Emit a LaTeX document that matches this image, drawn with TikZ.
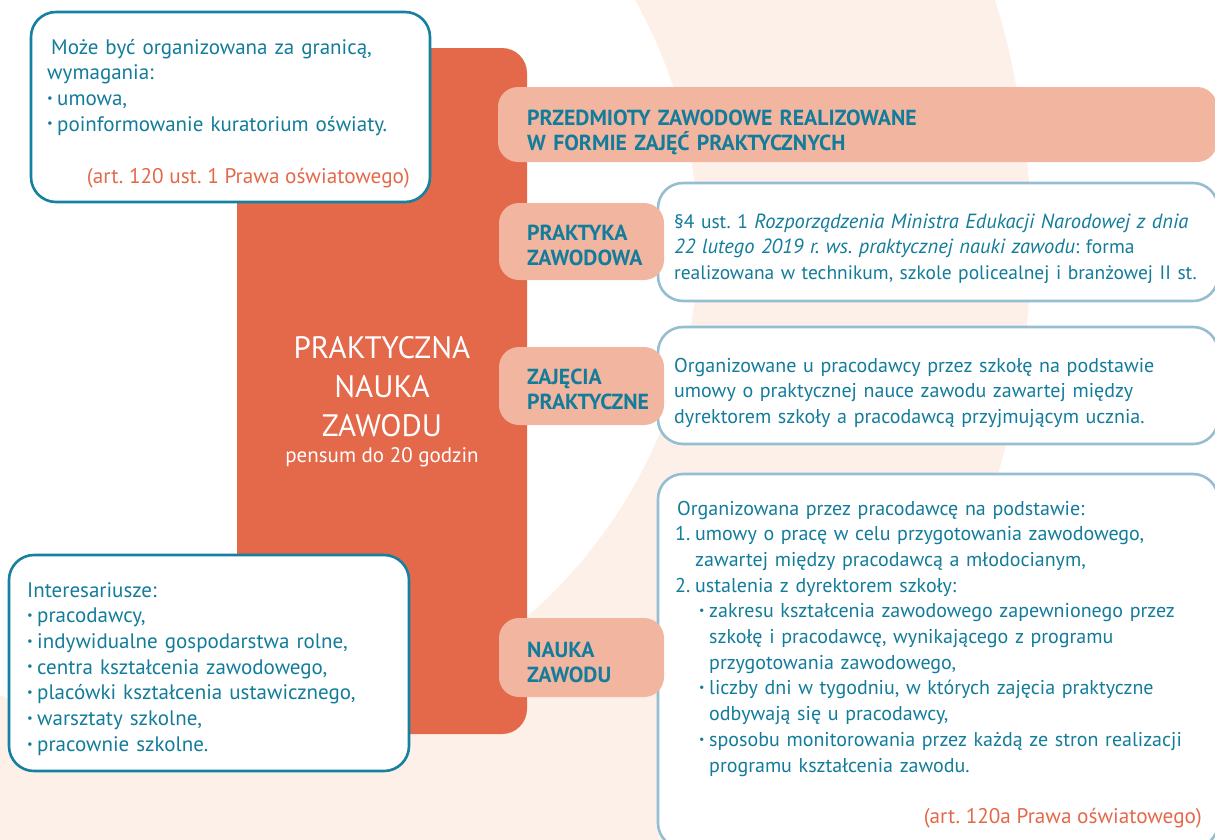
\documentclass[tikz,border=0pt]{standalone}
\usepackage{fontspec}
\setmainfont{PT Sans}
\usetikzlibrary{calc,positioning}
\frenchspacing

\definecolor{mainorange}{HTML}{E4694A}
\definecolor{salmon}{HTML}{F2B6A0}
\definecolor{tealtext}{HTML}{137C9B}
\definecolor{tealline}{HTML}{15809F}
\definecolor{paleblue}{HTML}{96BED3}
\definecolor{peach}{HTML}{FDF0E8}

\newcommand{\bul}{\makebox[10pt][l]{\raisebox{0.3ex}{\scalebox{0.6}{\textbullet}}}}
\newcommand{\lawit}[1]{\textit{\fontsize{20.5}{25.7}\selectfont #1}}

\tikzset{
    infobox/.style={
        draw=tealline, line width=2.6pt, fill=white,
        rounded corners=25pt, inner sep=0pt
    },
    notebox/.style={
        draw=paleblue, line width=2.6pt, fill=white,
        rounded corners=25pt, inner sep=0pt
    }
}

\begin{document}
\begin{tikzpicture}[
        x=1pt, y=-1pt,
        labelbox/.style={
            fill=salmon, rounded corners=20pt, inner sep=0pt
        },
        body/.style={
            text=tealtext, inner sep=0pt, align=left, text width=560pt,
            font=\fontsize{20}{25.7}\selectfont
        },
        sidebody/.style={
            body, font=\fontsize{21}{25.7}\selectfont
        },
        tag/.style={
            text=tealtext, inner sep=0pt, align=left, text width=400pt,
            font=\fontsize{21.8}{25.5}\selectfont\bfseries
        },
        source/.style={
            text=mainorange, inner sep=0pt,
            font=\fontsize{21.2}{25.7}\selectfont
        }
    ]

    \useasboundingbox (0,0) rectangle (1215,839);
    \clip (0,0) rectangle (1215,839);

    % background ring
    \fill[peach, even odd rule] (202,242) circle[radius=829] (202,242) circle[radius=496];

    \node[fill=mainorange, rounded corners=25pt, minimum width=290pt, minimum height=686pt] (pnz) at (382,391) {};
    \node[text=white, inner sep=0pt, align=center, text width=280pt, anchor=base,
          font=\fontsize{31}{39}\selectfont] (pnztitle) at (382,358) {PRAKTYCZNA\\NAUKA\\ZAWODU};
    \node[text=white, inner sep=0pt, anchor=base,
          font=\fontsize{21}{24}\selectfont] (pensum) at (382,462) {pensum do 20 godzin};

    % left boxes
    \node[infobox, minimum width=399pt, minimum height=190pt] (abroad) at (230.5,107) {};
    \node[sidebody, anchor=base west] (abroadtxt) at (47,54) {\hspace*{4pt}Może być organizowana za granicą,\\
        wymagania:\\ \bul umowa,\\ \bul poinformowanie kuratorium oświaty.};
    \node[source, anchor=base east] (abroadsrc) at (410,183) {(art. 120 ust. 1 Prawa oświatowego)};

    \node[infobox, minimum width=400pt, minimum height=216pt] (parties) at (209,663) {};
    \node[sidebody, anchor=base west] (partiestxt) at (27,597) {Interesariusze:\\ \bul pracodawcy,\\
        \bul indywidualne gospodarstwa rolne,\\ \bul centra kształcenia zawodowego,\\
        \bul placówki kształcenia ustawicznego,\\ \bul warsztaty szkolne,\\ \bul pracownie szkolne.};

    % right column
    \node[labelbox, minimum width=719pt, minimum height=75pt] (subjects) at (857.5,124.5) {};
    \node[tag, anchor=base west] (subjectstxt) at (527,125) {PRZEDMIOTY ZAWODOWE REALIZOWANE\\W FORMIE ZAJĘĆ PRAKTYCZNYCH};

    \node[notebox, minimum width=560pt, minimum height=118pt] (practice) at (938,242) {};
    \node[notebox, minimum width=560pt, minimum height=117pt] (classes) at (938,385.5) {};
    \node[notebox, minimum width=560pt, minimum height=374pt] (training) at (938,661) {};

    \node[labelbox, minimum width=165pt, minimum height=77pt] (practicetag) at (581.5,241.5) {};
    \node[labelbox, minimum width=165pt, minimum height=78pt] (classestag) at (581.5,386) {};
    \node[labelbox, minimum width=165pt, minimum height=79pt] (trainingtag) at (581.5,657.5) {};

    \node[tag, anchor=base west] at (527,240) {PRAKTYKA\\ZAWODOWA};
    \node[tag, anchor=base west] at (527,384) {ZAJĘCIA\\PRAKTYCZNE};
    \node[tag, anchor=base west] at (527,657) {NAUKA\\ZAWODU};

    \node[body, anchor=base west, font=\fontsize{19.5}{25.7}\selectfont] (practicetxt) at (674,228)
        {§4 ust. 1 \lawit{Rozporządzenia Ministra Edukacji Narodowej z dnia}\\
        \lawit{22 lutego 2019 r. ws. praktycznej nauki zawodu}: forma\\
        realizowana w technikum, szkole policealnej i branżowej II st.};
    \node[body, anchor=base west] (classestxt) at (674,372) {Organizowane u pracodawcy przez szkołę na podstawie\\
        umowy o praktycznej nauce zawodu zawartej między\\
        dyrektorem szkoły a pracodawcą przyjmującym ucznia.};
    \node[body, anchor=base west] (trainingtxt) at (675,515) {\hspace*{2pt}Organizowana przez pracodawcę na podstawie:\\
        \makebox[20pt][l]{1.}umowy o pracę w celu przygotowania zawodowego,\\
        \hspace*{20pt}zawartej między pracodawcą a młodocianym,\\
        \makebox[20pt][l]{2.}ustalenia z dyrektorem szkoły:\\
        \hspace*{24pt}\bul zakresu kształcenia zawodowego zapewnionego przez\\
        \hspace*{34pt}szkołę i pracodawcę, wynikającego z programu\\
        \hspace*{34pt}przygotowania zawodowego,\\
        \hspace*{24pt}\bul liczby dni w tygodniu, w których zajęcia praktyczne\\
        \hspace*{34pt}odbywają się u pracodawcy,\\
        \hspace*{24pt}\bul sposobu monitorowania przez każdą ze stron realizacji\\
        \hspace*{34pt}programu kształcenia zawodu.};
    \node[source, anchor=base east] (trainingsrc) at (1202,823) {(art. 120a Prawa oświatowego)};

\end{tikzpicture}
\end{document}
